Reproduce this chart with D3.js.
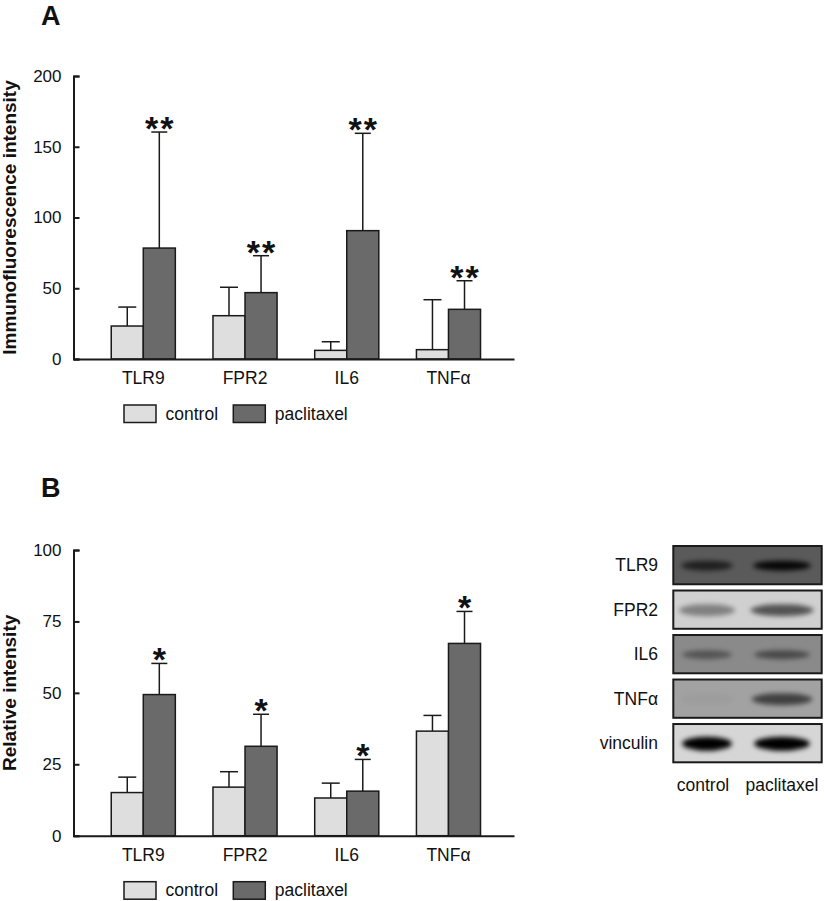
<!DOCTYPE html>
<html>
<head>
<meta charset="utf-8">
<script src="https://cdn.jsdelivr.net/npm/d3@7"></script>
<style>
  body { margin: 0; background: #fff; }
  svg { display: block; }
  text { font-family: "Liberation Sans", Arial, Helvetica, sans-serif; fill: #111; }
</style>
</head>
<body>
<div id="chart"></div>
<script>
// ---- data ----
const categories = ["TLR9", "FPR2", "IL6", "TNFα"];
const groups = ["control", "paclitaxel"];

// panel A: immunofluorescence intensity (mean, SD shown upward)
const ifControl = [23.3, 30.6, 6.1, 6.6];
const ifControlSd = [13.4, 20.1, 6.1, 35.3];
const ifPaclitaxel = [78.4, 46.9, 90.7, 35.1];
const ifPaclitaxelSd = [82.0, 26.1, 68.8, 20.2];
const ifSignif = ["**", "**", "**", "**"];
const ifTicks = [0, 50, 100, 150, 200];

// panel B: relative intensity from western blot
const riControl = [15.1, 17.0, 13.2, 36.6];
const riControlSd = [5.4, 5.4, 5.2, 5.5];
const riPaclitaxel = [49.4, 31.3, 15.6, 67.3];
const riPaclitaxelSd = [10.9, 11.2, 11.1, 11.2];
const riSignif = ["*", "*", "*", "*"];
const riTicks = [0, 25, 50, 75, 100];

// blot: band density per lane (0 = none, 1 = black)
const blotProteins = ["TLR9", "FPR2", "IL6", "TNFα", "vinculin"];
const blotLanes = ["control", "paclitaxel"];
const bandControl = [0.6, 0.35, 0.36, 0.03, 0.95];
const bandPaclitaxel = [0.85, 0.55, 0.44, 0.55, 0.95];

const width = 824, height = 901;
const fill = { control: "#dedede", paclitaxel: "#6a6a6a" };
const ink = "#1a1a1a";

const svg = d3.select("#chart")
    .append("svg")
    .attr("width", width)
    .attr("height", height);

const x = d3.scaleBand()
    .domain(categories)
    .range([73.5, 514])
    .paddingInner(0.37)
    .paddingOuter(0.35)
    .align(0.53);

const xSub = d3.scaleBand()
    .domain(groups)
    .range([0, x.bandwidth()]);

function drawPanel(opts) {
    const y = d3.scaleLinear()
        .domain(opts.domain)
        .range([opts.bottom, opts.top]);

    const rows = categories.map((c, i) => ({
        cat: c,
        bars: [
            { group: "control", v: opts.control[i], sd: opts.controlSd[i], cap: 18 },
            { group: "paclitaxel", v: opts.pac[i], sd: opts.pacSd[i], cap: 16, sig: opts.sig[i] }
        ]
    }));

    const g = svg.append("g");

    const cat = g.selectAll(".cat")
        .data(rows)
        .enter()
        .append("g")
        .attr("class", "cat")
        .attr("transform", d => `translate(${x(d.cat)},0)`);

    const bar = cat.selectAll(".bar")
        .data(d => d.bars)
        .enter()
        .append("g")
        .attr("class", "bar");

    // error bars first, so the bar outline sits over the stem
    bar.append("line")
        .attr("x1", d => xSub(d.group) + xSub.bandwidth() / 2)
        .attr("x2", d => xSub(d.group) + xSub.bandwidth() / 2)
        .attr("y1", d => y(d.v))
        .attr("y2", d => y(d.v + d.sd))
        .attr("stroke", ink)
        .attr("stroke-width", 1.5);

    bar.append("line")
        .attr("x1", d => xSub(d.group) + xSub.bandwidth() / 2 - d.cap / 2)
        .attr("x2", d => xSub(d.group) + xSub.bandwidth() / 2 + d.cap / 2)
        .attr("y1", d => y(d.v + d.sd))
        .attr("y2", d => y(d.v + d.sd))
        .attr("stroke", ink)
        .attr("stroke-width", 1.5);

    bar.append("rect")
        .attr("x", d => xSub(d.group))
        .attr("y", d => y(d.v))
        .attr("width", xSub.bandwidth())
        .attr("height", d => y(0) - y(d.v))
        .attr("fill", d => fill[d.group])
        .attr("stroke", ink)
        .attr("stroke-width", 1.5);

    bar.filter(d => d.sig)
        .append("text")
        .attr("x", d => xSub(d.group) + xSub.bandwidth() / 2 + 1)
        .attr("y", d => y(d.v + d.sd) + 8)
        .attr("text-anchor", "middle")
        .attr("font-size", 34)
        .attr("font-weight", "bold")
        .attr("letter-spacing", 2)
        .text(d => d.sig);

    // y axis, ticks point inward
    const yAxis = d3.axisLeft(y)
        .tickValues(opts.ticks)
        .tickSizeInner(-6)
        .tickSizeOuter(-6)
        .tickPadding(12);

    const ya = g.append("g")
        .attr("transform", `translate(${x.range()[0]},0)`)
        .call(yAxis)
        .attr("font-size", 17)
        .attr("font-family", null);
    ya.selectAll("path, line").attr("stroke", ink).attr("stroke-width", 2);
    ya.selectAll("text").attr("fill", "#111");

    const xa = g.append("g")
        .attr("transform", `translate(0,${y(0)})`)
        .call(d3.axisBottom(x).tickSize(0).tickPadding(13))
        .attr("font-size", 17.5)
        .attr("font-family", null);
    xa.select("path").attr("stroke", ink).attr("stroke-width", 2);
    xa.selectAll("text").attr("fill", "#111");

    // axis title
    g.append("text")
        .attr("transform", `translate(16,${(opts.top + opts.bottom) / 2}) rotate(-90)`)
        .attr("text-anchor", "middle")
        .attr("font-size", 19)
        .attr("font-weight", "bold")
        .text(opts.title);

    // panel letter
    g.append("text")
        .attr("x", 41)
        .attr("y", opts.letterY)
        .attr("font-size", 27)
        .attr("font-weight", "bold")
        .text(opts.letter);

    // legend
    const legendX = d3.scaleOrdinal().domain(groups).range([124, 233.3]);
    const lg = g.selectAll(".legend")
        .data(groups)
        .enter()
        .append("g")
        .attr("class", "legend")
        .attr("transform", d => `translate(${legendX(d)},${y(0) + 46})`);
    lg.append("rect")
        .attr("width", 32)
        .attr("height", 17.5)
        .attr("fill", d => fill[d])
        .attr("stroke", ink)
        .attr("stroke-width", 1.5);
    lg.append("text")
        .attr("x", 41.5)
        .attr("y", 14.5)
        .attr("font-size", 17.5)
        .text(d => d);
}

drawPanel({
    letter: "A", letterY: 25, title: "Immunofluorescence intensity",
    domain: [0, 200], ticks: ifTicks, top: 76, bottom: 359,
    control: ifControl, controlSd: ifControlSd,
    pac: ifPaclitaxel, pacSd: ifPaclitaxelSd, sig: ifSignif
});

drawPanel({
    letter: "B", letterY: 497, title: "Relative intensity",
    domain: [0, 100], ticks: riTicks, top: 550, bottom: 835.7,
    control: riControl, controlSd: riControlSd,
    pac: riPaclitaxel, pacSd: riPaclitaxelSd, sig: riSignif
});

// ---- western blot strips ----
const blotBg = { "TLR9": "#5a5a5a", "FPR2": "#d0d0d0", "IL6": "#8a8a8a", "TNFα": "#a2a2a2", "vinculin": "#d6d6d6" };
const bandShape = { "TLR9": [52, 5], "FPR2": [56, 6], "IL6": [50, 4.5], "TNFα": [54, 6], "vinculin": [50, 7] };

const rowY = d3.scaleBand()
    .domain(blotProteins)
    .range([546, 762.3])
    .paddingInner(0.14);

const laneX = d3.scalePoint()
    .domain(blotLanes)
    .range([707, 782]);

const defs = svg.append("defs");
defs.append("filter")
    .attr("id", "blur")
    .attr("x", "-50%").attr("y", "-100%")
    .attr("width", "200%").attr("height", "300%")
    .append("feGaussianBlur")
    .attr("stdDeviation", 2.8);

const blotX0 = 673.3, blotX1 = 821.7;

blotProteins.forEach((p, i) => {
    defs.append("clipPath")
        .attr("id", "clip" + i)
        .append("rect")
        .attr("x", blotX0).attr("y", rowY(p))
        .attr("width", blotX1 - blotX0).attr("height", rowY.bandwidth());
});

const strip = svg.selectAll(".strip")
    .data(blotProteins.map((p, i) => ({ p, i, bands: [bandControl[i], bandPaclitaxel[i]] })))
    .enter()
    .append("g")
    .attr("class", "strip");

strip.append("rect")
    .attr("x", blotX0)
    .attr("y", d => rowY(d.p))
    .attr("width", blotX1 - blotX0)
    .attr("height", rowY.bandwidth())
    .attr("fill", d => blotBg[d.p]);

strip.append("g")
    .attr("clip-path", d => `url(#clip${d.i})`)
    .selectAll("ellipse")
    .data(d => d.bands.map((b, j) => ({ p: d.p, lane: blotLanes[j], b })))
    .enter()
    .append("ellipse")
    .attr("cx", d => laneX(d.lane))
    .attr("cy", d => rowY(d.p) + rowY.bandwidth() / 2 + 0.5)
    .attr("rx", d => bandShape[d.p][0] / 2 * (d.lane === "paclitaxel" ? 1.12 : 1))
    .attr("ry", d => bandShape[d.p][1])
    .attr("fill", "#000")
    .attr("fill-opacity", d => Math.min(1, d.b * 1.1))
    .attr("filter", "url(#blur)");

strip.append("rect")
    .attr("x", blotX0)
    .attr("y", d => rowY(d.p))
    .attr("width", blotX1 - blotX0)
    .attr("height", rowY.bandwidth())
    .attr("fill", "none")
    .attr("stroke", ink)
    .attr("stroke-width", 2);

strip.append("text")
    .attr("x", 658)
    .attr("y", d => rowY(d.p) + rowY.bandwidth() / 2)
    .attr("dy", "0.36em")
    .attr("text-anchor", "end")
    .attr("font-size", 17.5)
    .text(d => d.p);

svg.selectAll(".lane-label")
    .data(blotLanes)
    .enter()
    .append("text")
    .attr("class", "lane-label")
    .attr("x", d => laneX(d) + (d === "control" ? -4 : 0))
    .attr("y", 790.7)
    .attr("text-anchor", "middle")
    .attr("font-size", 17.5)
    .text(d => d);
</script>
</body>
</html>
